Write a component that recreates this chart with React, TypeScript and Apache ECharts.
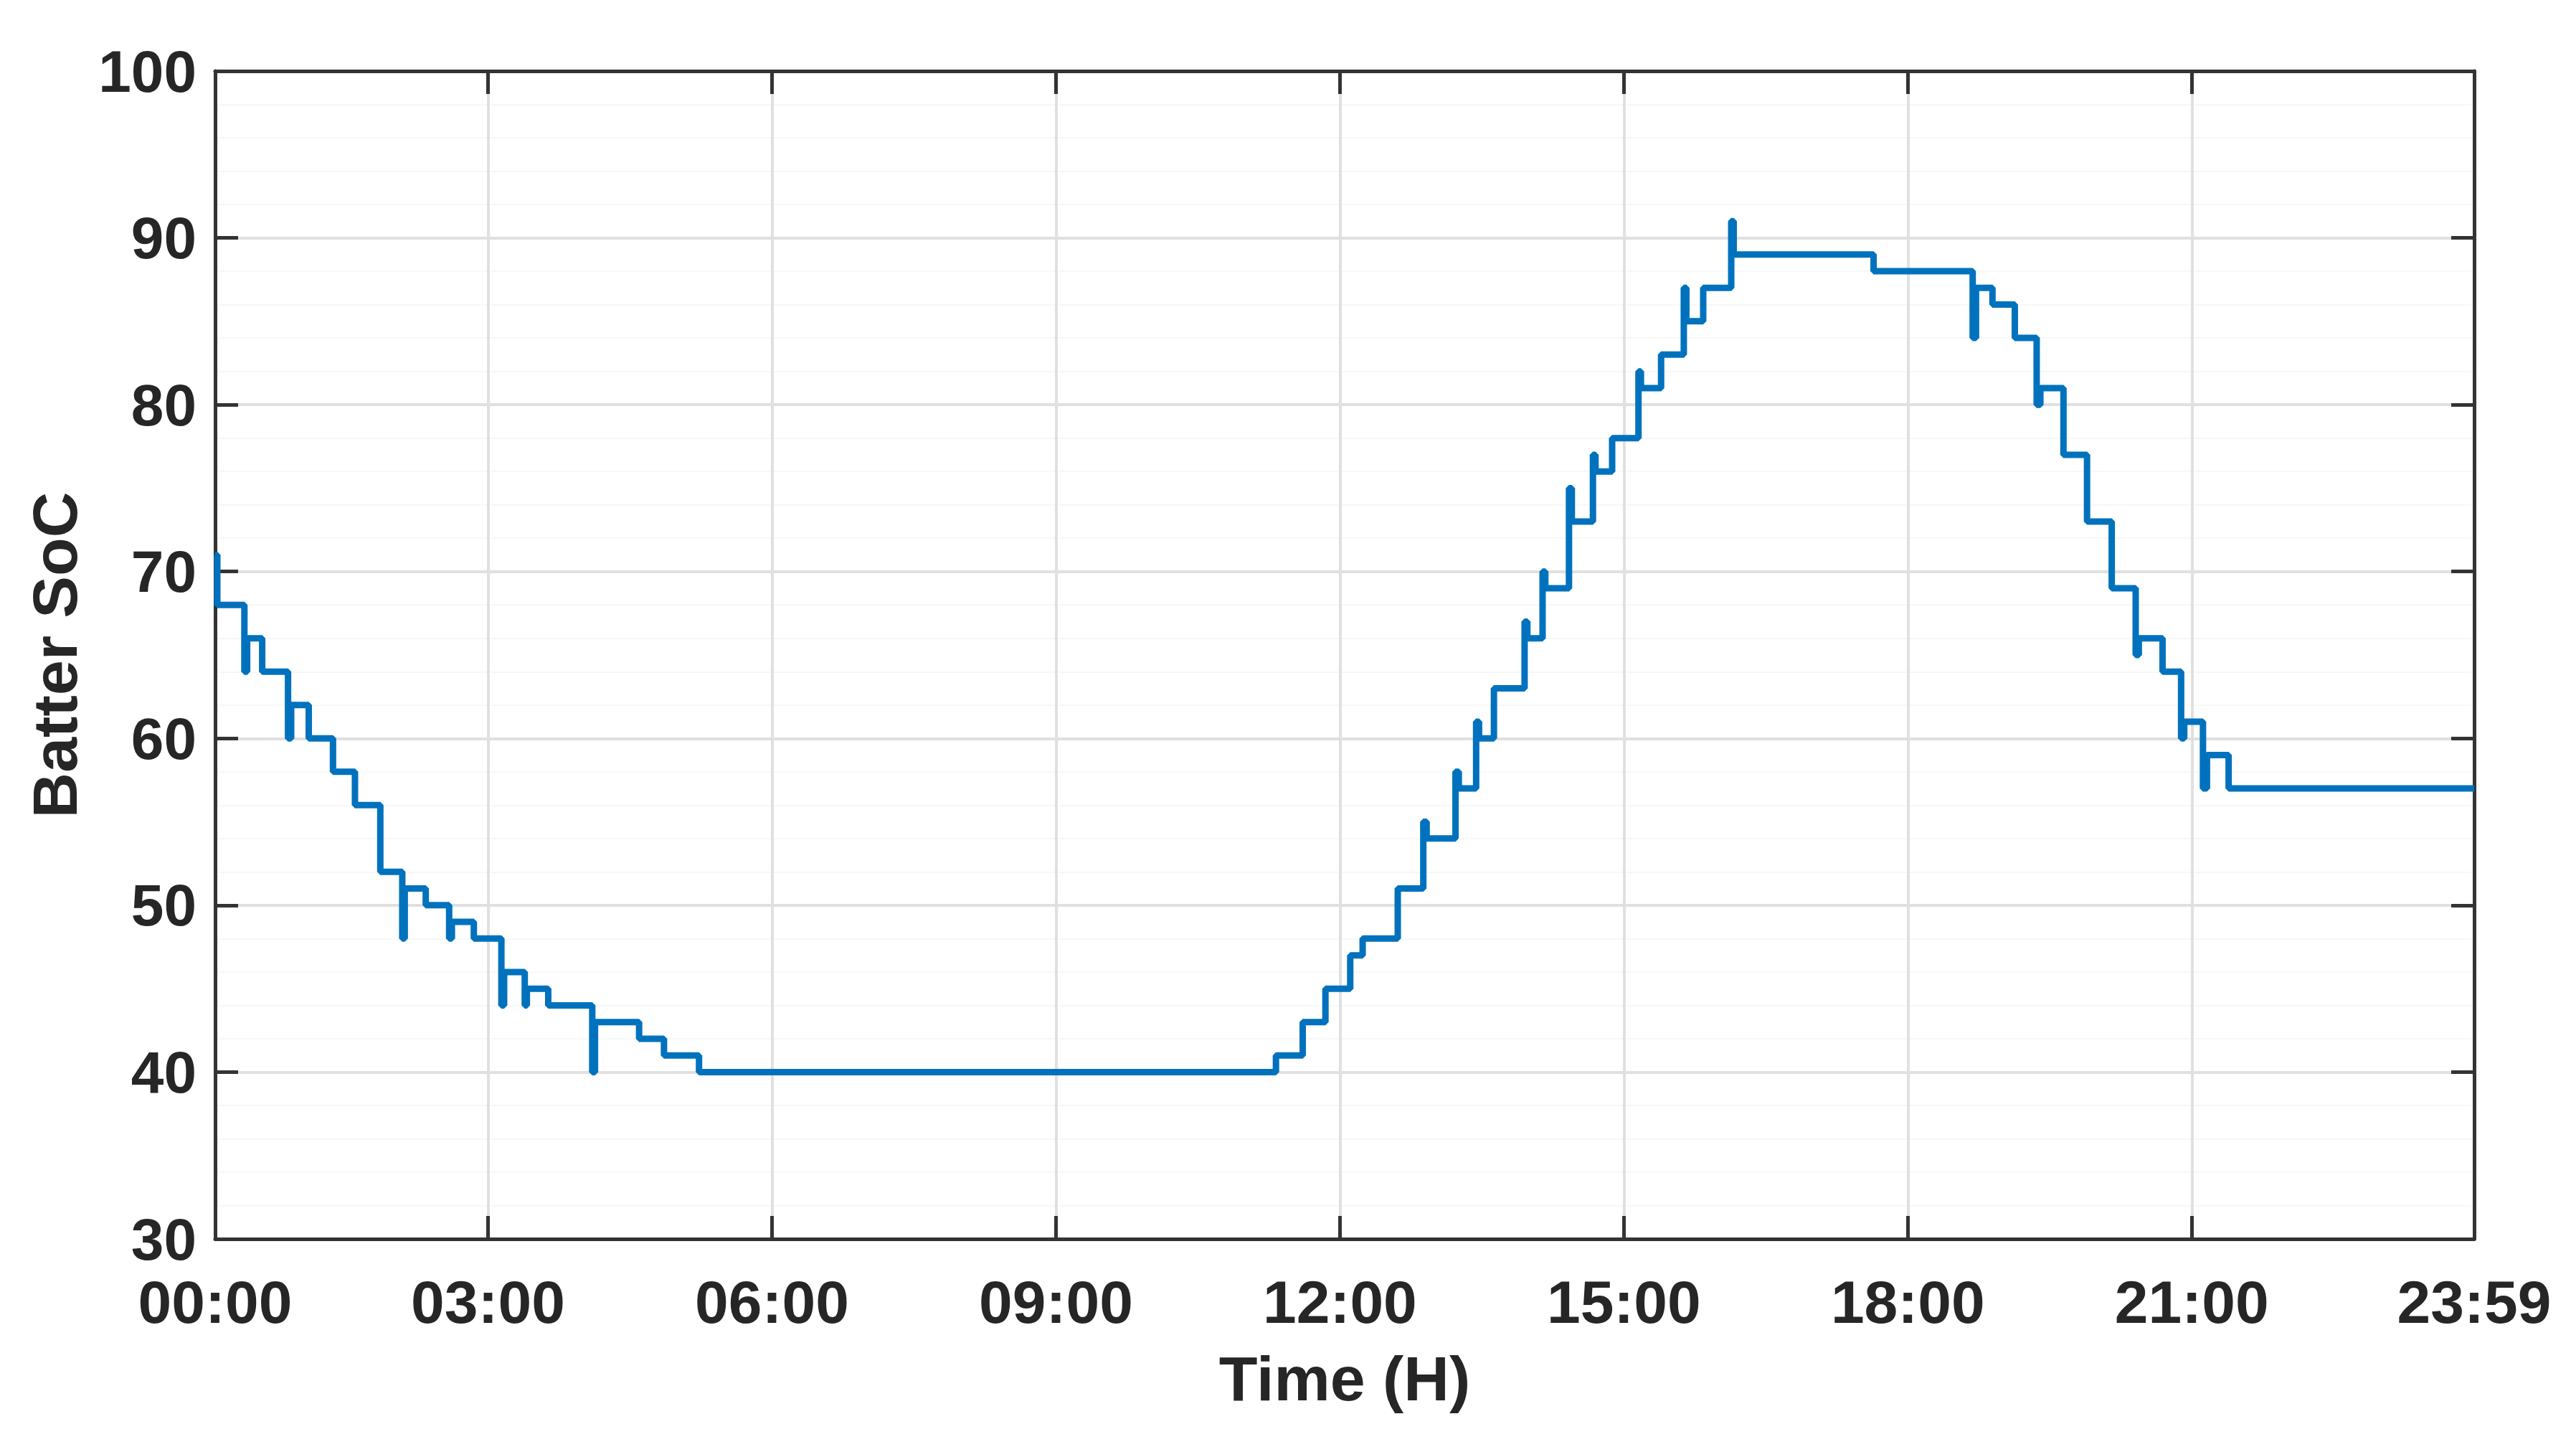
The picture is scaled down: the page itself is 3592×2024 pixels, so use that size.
import React, { useEffect, useRef } from "react";
import * as echarts from "echarts";

// Time of each SoC change (hours after midnight)
const TIME_H = [
  0.117, 0.14, 0.426, 0.455, 0.614, 0.887, 0.92, 1.106, 1.362, 1.594, 1.862, 2.094, 2.12,
  2.342, 2.589, 2.618, 2.85, 3.141, 3.17, 3.388, 3.41, 3.636, 4.101, 4.13, 4.596, 4.859,
  5.229, 11.324, 11.607, 11.847, 12.109, 12.24, 12.611, 12.881, 12.916, 13.221, 13.256,
  13.439, 13.47, 13.627, 13.951, 13.98, 14.141, 14.17, 14.42, 14.45, 14.673, 14.7, 14.876,
  15.154, 15.18, 15.393, 15.633, 15.66, 15.838, 16.134, 16.16, 17.638, 18.685, 18.72,
  18.894, 19.13, 19.361, 19.4, 19.644, 19.893, 20.154, 20.407, 20.44, 20.691, 20.887,
  20.92, 21.118, 21.16, 21.389, 23.983,
];

// Battery state of charge after each change (%)
const SOC = [
  71, 68, 64, 66, 64, 60, 62, 60, 58, 56, 52, 48, 51,
  50, 48, 49, 48, 44, 46, 44, 45, 44, 40, 43, 42, 41,
  40, 41, 43, 45, 47, 48, 51, 55, 54, 58, 57,
  61, 60, 63, 67, 66, 70, 69, 75, 73, 77, 76, 78,
  82, 81, 83, 87, 85, 87, 91, 89, 88, 84, 87,
  86, 84, 80, 81, 77, 73, 69, 65, 66, 64, 60,
  61, 57, 59, 57, 57,
];

const X_MIN = 0.117;
const X_MAX = 23.983;
const X_TICK_VALUES = [0.117, 3, 6, 9, 12, 15, 18, 21, 23.983];
const X_TICK_LABELS = ["00:00", "03:00", "06:00", "09:00", "12:00", "15:00", "18:00", "21:00", "23:59"];
const Y_MIN = 30;
const Y_MAX = 100;
const Y_STEP = 10;

export default function App() {
  const ref = useRef<HTMLDivElement>(null);

  useEffect(() => {
    document.body.style.margin = "0";
    const chart = echarts.init(ref.current as HTMLDivElement, null, { renderer: "svg" });
    const font = "'Liberation Sans', Arial, Helvetica, sans-serif";
    const axisColor = "#333333";
    const textColor = "#262626";
    const gridColor = "#e0e0e0";
    const data = TIME_H.map((t, i) => [t, SOC[i]]);
    const xLabel = (v: number) => {
      for (let i = 0; i < X_TICK_VALUES.length; i++) {
        if (Math.abs(X_TICK_VALUES[i] - v) < 1e-6) return X_TICK_LABELS[i];
      }
      return "";
    };
    const frameLine = { show: true, onZero: false, lineStyle: { color: axisColor, width: 5 } };
    const tickStyle = { color: axisColor, width: 5 };

    chart.setOption({
      animation: false,
      backgroundColor: "#ffffff",
      grid: { left: 300, top: 99, width: 3150, height: 1628, containLabel: false },
      xAxis: [
        {
          type: "value",
          position: "bottom",
          min: X_MIN,
          max: X_MAX,
          axisLine: frameLine,
          axisTick: { show: true, inside: true, length: 32, customValues: X_TICK_VALUES, lineStyle: tickStyle },
          axisLabel: {
            show: true,
            customValues: X_TICK_VALUES,
            formatter: xLabel,
            margin: 46,
            lineHeight: 84,
            fontSize: 84,
            fontWeight: "bold",
            fontFamily: font,
            color: textColor,
          },
          splitLine: { show: true, lineStyle: { color: gridColor, width: 4 } },
          name: "Time (H)",
          nameLocation: "middle",
          nameGap: 150,
          nameTextStyle: { fontSize: 88, fontWeight: "bold", fontFamily: font, color: textColor },
        },
        {
          type: "value",
          position: "top",
          min: X_MIN,
          max: X_MAX,
          axisLine: frameLine,
          axisTick: { show: true, inside: true, length: 32, customValues: X_TICK_VALUES, lineStyle: tickStyle },
          axisLabel: { show: false },
          splitLine: { show: false },
        },
      ],
      yAxis: [
        {
          type: "value",
          position: "left",
          min: Y_MIN,
          max: Y_MAX,
          interval: Y_STEP,
          axisLine: frameLine,
          axisTick: { show: true, inside: true, length: 32, lineStyle: tickStyle },
          axisLabel: {
            show: true,
            margin: 26,
            lineHeight: 66,
            fontSize: 82,
            fontWeight: "bold",
            fontFamily: font,
            color: textColor,
          },
          splitLine: { show: true, lineStyle: { color: gridColor, width: 4 } },
          minorTick: { show: false, splitNumber: 5 },
          minorSplitLine: { show: true, lineStyle: { color: "#f7f7f7", width: 2 } },
          name: "Batter SoC",
          nameLocation: "middle",
          nameGap: 180,
          nameRotate: 90,
          nameTextStyle: { fontSize: 88, fontWeight: "bold", fontFamily: font, color: textColor },
        },
        {
          type: "value",
          position: "right",
          min: Y_MIN,
          max: Y_MAX,
          interval: Y_STEP,
          axisLine: frameLine,
          axisTick: { show: true, inside: true, length: 32, lineStyle: tickStyle },
          axisLabel: { show: false },
          splitLine: { show: false },
        },
      ],
      series: [
        {
          type: "line",
          xAxisIndex: 0,
          yAxisIndex: 0,
          step: "end",
          showSymbol: false,
          symbol: "none",
          lineStyle: { color: "#0072BD", width: 9 },
          data,
          z: 3,
        },
      ],
    });
    return () => chart.dispose();
  }, []);

  return (
    <div
      ref={ref}
      style={{ position: "absolute", left: 0, top: 0, width: 3592, height: 2024 }}
    />
  );
}
